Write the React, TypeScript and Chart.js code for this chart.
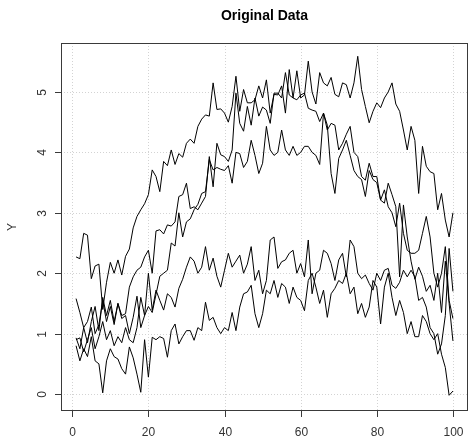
import React, { useEffect, useRef } from "react";
import { Chart, registerables } from "chart.js";

Chart.register(...registerables);

const xValues = Array.from({ length: 100 }, (_, i) => i + 1);

const seriesA = [
  2.27, 2.24, 2.66, 2.63, 1.91, 2.12, 2.15, 1.4, 1.85, 2.18,
  2.0, 2.22, 1.97, 2.28, 2.4, 2.75, 2.94, 3.05, 3.15, 3.3,
  3.71, 3.6, 3.35, 3.85, 3.78, 4.04, 3.8, 3.98, 3.92, 4.15,
  4.22, 4.15, 4.43, 4.55, 4.62, 4.6, 5.15, 4.71, 4.72, 4.65,
  4.5, 4.76, 5.26, 4.68, 5.04, 4.82, 4.82, 4.87, 5.1, 4.9,
  5.2, 4.65, 4.96, 4.95, 5.1, 4.65, 5.37, 4.9, 5.35, 4.9,
  4.95, 5.51, 5.0, 4.8, 5.32, 5.15, 5.1, 5.24, 4.96, 4.92,
  5.15, 5.12, 4.9, 5.15, 5.59, 5.04, 4.76, 4.49, 4.68, 4.82,
  4.74, 4.9, 5.0, 5.15, 4.8, 4.68, 4.37, 4.04, 4.43, 4.2,
  3.32, 4.1, 3.77, 3.68, 3.65, 3.05, 3.32, 2.88, 2.6, 3.0,
];

const seriesB = [
  0.93, 0.75, 1.1, 0.85, 1.2, 1.45, 1.05, 1.6, 1.3, 1.55,
  1.2, 1.5, 1.3, 1.33, 1.77, 1.94, 2.05, 2.1, 2.27, 2.38,
  2.0, 2.7, 2.72, 2.65, 2.8, 2.78, 2.85, 3.27, 3.3, 3.49,
  3.07, 3.1, 3.05, 3.16, 3.27, 3.93, 3.43, 4.15, 3.96, 3.93,
  3.85, 4.04, 4.98, 4.48, 4.35, 4.76, 4.45, 4.9, 4.6, 4.75,
  4.7, 4.48, 4.98, 4.98, 4.9, 5.32, 4.95, 4.9, 4.87, 4.95,
  4.98, 4.73, 4.7, 4.68, 4.51, 4.65, 4.37, 4.48, 4.45, 4.04,
  4.15, 4.3, 4.43, 4.0, 3.93, 3.6, 3.54, 3.82, 3.6, 3.6,
  3.21, 3.16, 3.49, 3.3, 3.1, 1.94, 3.13, 2.6, 2.2, 1.9,
  2.1, 1.95, 1.7, 1.8, 1.55, 2.0, 1.35, 2.2, 1.5, 0.88,
];

const seriesC = [
  0.9, 0.93, 0.7, 0.9, 1.1, 0.75, 0.95, 1.2, 0.9, 1.05,
  0.8, 0.95, 0.85, 1.1, 0.9, 0.85, 1.1, 1.6, 1.3, 1.45,
  1.35, 1.65, 1.95, 2.0, 2.05, 2.5, 2.45, 3.0, 2.6, 2.85,
  2.9, 3.05, 3.14, 3.32, 3.35, 3.88, 3.71, 3.75, 3.72, 3.7,
  3.78, 3.49, 4.0, 3.98, 3.75, 3.85, 4.2, 3.95, 3.65, 3.82,
  4.43, 4.04, 3.95, 4.0, 4.37, 4.04, 3.95, 4.1, 3.95, 4.0,
  4.1, 4.1, 4.0, 3.95, 3.8, 4.65, 4.45, 3.65, 3.32, 3.9,
  4.04, 4.2, 3.95, 3.7, 3.6, 3.55, 3.27, 3.7, 3.55, 3.5,
  3.21, 3.38, 3.1, 3.0, 2.77, 3.16, 2.66, 2.38, 2.33, 2.33,
  2.38, 2.66, 2.94, 2.6, 2.0, 1.77, 2.0, 2.44, 1.55, 1.25,
];

const seriesD = [
  1.58, 1.35, 1.1, 1.2, 1.44, 1.0, 1.15, 1.55, 1.2, 1.45,
  1.15, 1.5, 1.25, 1.3, 1.0, 1.27, 1.62, 1.1, 1.3, 2.0,
  1.39, 1.72, 1.55, 1.39, 1.66, 1.6, 1.44, 1.75, 1.9, 2.1,
  2.27, 2.2, 2.0, 2.1, 2.44, 2.05, 2.25, 1.95, 1.77, 2.05,
  2.33, 2.1, 2.2, 2.3, 2.0, 2.15, 2.44, 1.88, 2.05, 1.66,
  1.88, 2.55, 2.6, 2.08, 2.19, 2.22, 2.33, 2.38, 2.0, 2.16,
  1.94, 2.55, 1.66, 2.0, 2.05, 2.38, 2.33, 2.16, 1.88, 2.22,
  2.33, 1.94, 2.55, 2.44, 2.0, 1.91, 1.97, 1.83, 1.72, 2.0,
  1.88, 2.05, 2.08, 1.8, 1.75, 1.85, 2.05, 1.94, 2.05, 1.94,
  1.55, 1.6, 1.44, 1.1, 1.0, 0.66, 0.83, 1.3, 2.41, 1.7,
];

const seriesE = [
  0.8, 0.55, 0.75, 0.62, 0.95, 0.55, 0.5, 0.02, 0.55, 0.75,
  0.62, 0.58, 0.42, 0.33, 0.78, 0.6, 0.33, 0.03, 0.9, 0.28,
  0.94, 0.9, 0.95, 0.92, 0.61, 1.05, 1.16, 0.83, 0.95, 1.05,
  1.05, 0.89, 1.1, 1.05, 1.52, 1.22, 1.27, 1.1, 1.0, 1.1,
  1.05, 1.35, 1.05, 1.44, 1.66, 1.69, 1.8, 1.33, 1.1, 1.33,
  1.72, 1.66, 1.88, 1.6, 1.83, 1.77, 1.5, 1.77, 1.6, 1.55,
  1.38, 1.88, 2.0, 1.77, 1.5, 1.72, 1.27, 1.66, 1.75, 1.88,
  1.83, 2.0, 1.66, 1.77, 1.33, 1.5, 1.27, 1.44, 1.88, 1.77,
  1.16, 1.77, 2.0, 1.6, 1.3, 1.55, 1.35, 1.0, 1.2, 0.95,
  0.95, 1.3, 1.2, 1.0, 0.9, 1.0, 0.66, 0.44, -0.02, 0.05,
];

const allSeries = [seriesA, seriesB, seriesC, seriesD, seriesE];

const xTicks = [0, 20, 40, 60, 80, 100];
const yTicks = [0, 1, 2, 3, 4, 5];
const chartTitle = "Original Data";
const yAxisTitle = "Y";

const FONT = "'Liberation Sans', Arial, Helvetica, sans-serif";

const rStylePlugin = {
  id: "rStyle",
  beforeDatasetsDraw(chart: any) {
    const { ctx, chartArea: a, scales } = chart;
    const x = scales.x;
    const y = scales.y;
    ctx.save();
    ctx.strokeStyle = "#d3d3d3";
    ctx.lineWidth = 1;
    ctx.setLineDash([1, 2]);
    xTicks.forEach((v) => {
      const px = Math.round(x.getPixelForValue(v)) + 0.5;
      ctx.beginPath();
      ctx.moveTo(px, a.top);
      ctx.lineTo(px, a.bottom);
      ctx.stroke();
    });
    yTicks.forEach((v) => {
      const py = Math.round(y.getPixelForValue(v)) + 0.5;
      ctx.beginPath();
      ctx.moveTo(a.left, py);
      ctx.lineTo(a.right, py);
      ctx.stroke();
    });
    ctx.restore();
  },
  afterDraw(chart: any) {
    const { ctx, chartArea: a, scales } = chart;
    const x = scales.x;
    const y = scales.y;
    ctx.save();
    ctx.setLineDash([]);
    ctx.strokeStyle = "#3a3a3a";
    ctx.lineWidth = 1;
    ctx.strokeRect(a.left + 0.5, a.top + 0.5, a.right - a.left - 1, a.bottom - a.top - 1);

    ctx.fillStyle = "#333";
    ctx.font = `12px ${FONT}`;
    ctx.textAlign = "center";
    ctx.textBaseline = "middle";
    xTicks.forEach((v) => {
      const px = Math.round(x.getPixelForValue(v)) + 0.5;
      ctx.beginPath();
      ctx.moveTo(px, a.bottom);
      ctx.lineTo(px, a.bottom + 6);
      ctx.stroke();
      ctx.fillText(String(v), px, 433);
    });
    yTicks.forEach((v) => {
      const py = Math.round(y.getPixelForValue(v)) + 0.5;
      ctx.beginPath();
      ctx.moveTo(a.left - 6, py);
      ctx.lineTo(a.left, py);
      ctx.stroke();
      ctx.save();
      ctx.translate(42.5, py);
      ctx.rotate(-Math.PI / 2);
      ctx.fillText(String(v), 0, 0);
      ctx.restore();
    });

    ctx.save();
    ctx.translate(12.5, (a.top + a.bottom) / 2);
    ctx.rotate(-Math.PI / 2);
    ctx.fillText(yAxisTitle, 0, 0);
    ctx.restore();

    ctx.fillStyle = "#000";
    ctx.font = `bold 14px ${FONT}`;
    ctx.fillText(chartTitle, (a.left + a.right) / 2, 16);
    ctx.restore();
  },
};

export default function App() {
  const canvasRef = useRef<HTMLCanvasElement | null>(null);

  useEffect(() => {
    const canvas = canvasRef.current;
    if (!canvas) return;
    const chart = new Chart(canvas, {
      type: "line",
      data: {
        datasets: allSeries.map((s, k) => ({
          label: `S${k + 1}`,
          data: s.map((v, i) => ({ x: xValues[i], y: v })),
          borderColor: "#000",
          borderWidth: 1,
          pointRadius: 0,
          tension: 0,
          fill: false,
        })),
      },
      options: {
        responsive: false,
        animation: false,
        devicePixelRatio: 1,
        layout: { padding: { left: 61, right: 2, top: 43, bottom: 35 } },
        plugins: {
          legend: { display: false },
          title: { display: false },
          tooltip: { enabled: false },
        },
        scales: {
          x: { type: "linear", min: -2.96, max: 103.96, display: false },
          y: { type: "linear", min: -0.28, max: 5.81, display: false },
        },
      },
      plugins: [rStylePlugin],
    });
    return () => chart.destroy();
  }, []);

  return (
    <div style={{ position: "absolute", left: 0, top: 0, width: 470, height: 446, background: "#fff" }}>
      <canvas ref={canvasRef} width={470} height={446} style={{ display: "block" }} />
    </div>
  );
}
